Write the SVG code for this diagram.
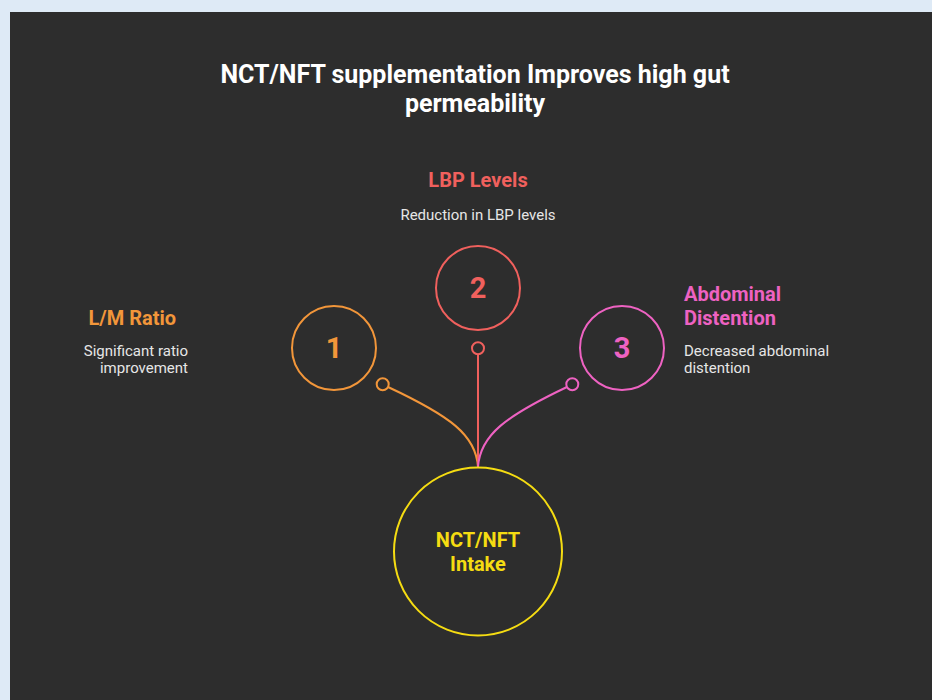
<svg xmlns="http://www.w3.org/2000/svg" width="932" height="700" viewBox="0 0 932 700">
<style>
text{font-family:Roboto,"Liberation Sans",sans-serif}
.t{fill:#ffffff;font-weight:bold;font-size:25px;text-anchor:middle}
.h{font-weight:bold;font-size:20px}
.d{fill:#e6e6e6;font-size:15px}
.n{font-weight:bold;font-size:29px;text-anchor:middle}
.c{fill:none;stroke-width:2}
</style>
<rect x="0" y="0" width="932" height="700" fill="#deeaf6"/>
<rect x="10" y="12" width="922" height="688" fill="#2d2d2d"/>
<g id="title">
<text class="t" x="475" y="83">NCT/NFT supplementation Improves high gut</text>
<text class="t" x="475" y="112">permeability</text>
</g>
<g id="connectors">
<path class="c" stroke="#f2963a" d="M388,387 C450,416 476,435 478,467"/>
<circle class="c" stroke="#f2963a" cx="382.7" cy="384.3" r="6"/>
<path class="c" stroke="#f0605d" d="M478,354.3 L478,467"/>
<circle class="c" stroke="#f0605d" cx="478" cy="348.3" r="6"/>
<path class="c" stroke="#ee62c2" d="M567,387 C506,416 480,435 478,467"/>
<circle class="c" stroke="#ee62c2" cx="572.3" cy="384.3" r="6"/>
</g>
<g id="node1">
<circle class="c" stroke="#f2963a" cx="334" cy="348" r="42"/>
<text class="n" fill="#f2963a" x="334" y="358">1</text>
<text class="h" fill="#f2963a" x="176" y="325" text-anchor="end">L/M Ratio</text>
<text class="d" x="188" y="356" text-anchor="end">Significant ratio</text>
<text class="d" x="188" y="373" text-anchor="end">improvement</text>
</g>
<g id="node2">
<circle class="c" stroke="#f0605d" cx="478" cy="288" r="42"/>
<text class="n" fill="#f0605d" x="478" y="298">2</text>
<text class="h" fill="#f0605d" x="478" y="187" text-anchor="middle">LBP Levels</text>
<text class="d" x="478" y="220" text-anchor="middle">Reduction in LBP levels</text>
</g>
<g id="node3">
<circle class="c" stroke="#ee62c2" cx="622" cy="348" r="42"/>
<text class="n" fill="#ee62c2" x="622" y="358">3</text>
<text class="h" fill="#ee62c2" x="684" y="301">Abdominal</text>
<text class="h" fill="#ee62c2" x="684" y="325">Distention</text>
<text class="d" x="684" y="356">Decreased abdominal</text>
<text class="d" x="684" y="373">distention</text>
</g>
<g id="center">
<circle class="c" stroke="#f5dc12" cx="478" cy="551.5" r="84"/>
<text class="h" fill="#f5dc12" x="478" y="547" text-anchor="middle">NCT/NFT</text>
<text class="h" fill="#f5dc12" x="478" y="571" text-anchor="middle">Intake</text>
</g>
</svg>
